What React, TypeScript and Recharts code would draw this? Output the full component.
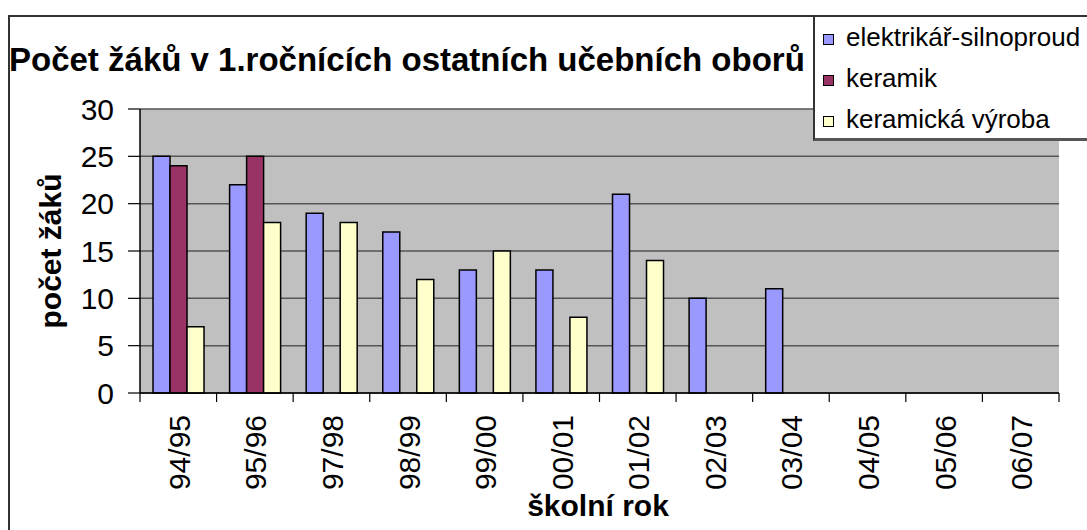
import React from "react";
import {
  BarChart,
  Bar,
  XAxis,
  YAxis,
  CartesianGrid,
  Legend,
  Label,
} from "recharts";

const categories = ["94/95", "95/96", "97/98", "98/99", "99/00", "00/01", "01/02", "02/03", "03/04", "04/05", "05/06", "06/07"];
const elektrikar = [25, 22, 19, 17, 13, 13, 21, 10, 11, null, null, null];
const keramik = [24, 25, null, null, null, null, null, null, null, null, null, null];
const keramickaVyroba = [7, 18, 18, 12, 15, 8, 14, null, null, null, null, null];
const yTicks = [0, 5, 10, 15, 20, 25, 30];

const seriesNames = ["elektrikář-silnoproud", "keramik", "keramická výroba"];
const seriesColors = ["#9999FF", "#993366", "#FFFFCC"];

const data = categories.map((name, i) => ({
  name,
  elektrikar: elektrikar[i],
  keramik: keramik[i],
  vyroba: keramickaVyroba[i],
}));

const FONT = "'Liberation Sans', Arial, sans-serif";

function XTick(props: any) {
  const { x, y, payload, index } = props;
  const half = payload?.offset ?? (1059 - 140) / categories.length / 2;
  return (
    <g>
      <line x1={x - half} x2={x - half} y1={y} y2={y + 9} stroke="#000" strokeWidth={1.2} />
      {index === categories.length - 1 && (
        <line x1={x + half} x2={x + half} y1={y} y2={y + 9} stroke="#000" strokeWidth={1.2} />
      )}
      <text
        x={0}
        y={0}
        transform={`translate(${x + 1}, ${y + 22}) rotate(-90)`}
        textAnchor="end"
        dominantBaseline="central"
        fontSize={30}
        fill="#000"
        fontFamily={FONT}
      >
        {payload.value}
      </text>
    </g>
  );
}

function LegendBox() {
  return (
    <div
      style={{
        background: "#fff",
        border: "2px solid #333",
        borderRight: "none",
        borderBottom: "3px solid #555",
        padding: "0 0 0 8px",
        height: 126,
        boxSizing: "border-box",
        fontFamily: FONT,
        fontSize: 26,
        color: "#000",
      }}
    >
      {seriesNames.map((n, i) => (
        <div key={n} style={{ display: "flex", alignItems: "center", height: 41, whiteSpace: "nowrap" }}>
          <span
            style={{
              display: "inline-block",
              width: 9,
              height: 9,
              background: seriesColors[i],
              border: "1.5px solid #000",
              marginRight: 12,
              marginTop: 4,
            }}
          />
          {n}
        </div>
      ))}
    </div>
  );
}

export default function App() {
  return (
    <div style={{ position: "absolute", left: 0, top: 0, width: 1087, height: 530, overflow: "hidden", background: "#fff", fontFamily: FONT }}>
      <div
        style={{
          position: "absolute",
          left: 8,
          top: 15,
          width: 1200,
          height: 600,
          borderLeft: "2px solid #333",
          borderTop: "2px solid #333",
        }}
      />
      <div
        style={{
          position: "absolute",
          left: 9,
          top: 41,
          fontSize: 33,
          fontWeight: "bold",
          whiteSpace: "nowrap",
          color: "#000",
        }}
      >
        Počet žáků v 1.ročnících ostatních učebních oborů
      </div>
      <div style={{ position: "absolute", left: 0, top: 0 }}>
        <BarChart
          width={1087}
          height={530}
          data={data}
          margin={{ top: 109, right: 28, left: 80, bottom: 0 }}
          barCategoryGap="17%"
          barGap={0}
        >
          <CartesianGrid vertical={false} stroke="#555" strokeWidth={1.5} fill="#C0C0C0" fillOpacity={1} />
          <XAxis
            dataKey="name"
            height={137}
            interval={0}
            tickLine={false}
            tickSize={0}
            tickMargin={0}
            axisLine={{ stroke: "#000", strokeWidth: 1.5 }}
            tick={<XTick />}
          >
            <Label
              content={() => (
                <text x={598} y={516} textAnchor="middle" fontSize={30} fontWeight="bold" fill="#000" fontFamily={FONT}>
                  školní rok
                </text>
              )}
            />
          </XAxis>
          <YAxis
            width={60}
            domain={[0, 30]}
            ticks={yTicks}
            interval={0}
            tickSize={12}
            tickMargin={14}
            tickLine={{ stroke: "#000", strokeWidth: 1.2 }}
            axisLine={{ stroke: "#000", strokeWidth: 1.5 }}
            tick={{ fill: "#000", fontSize: 30, fontFamily: FONT }}
          >
            <Label
              content={() => (
                <text
                  x={0}
                  y={0}
                  transform="translate(50, 251) rotate(-90)"
                  textAnchor="middle"
                  dominantBaseline="central"
                  fontSize={30}
                  fontWeight="bold"
                  fill="#000"
                  fontFamily={FONT}
                >
                  počet žáků
                </text>
              )}
            />
          </YAxis>
          <YAxis
            yAxisId="right"
            orientation="right"
            width={0}
            domain={[0, 30]}
            tick={false}
            tickLine={false}
            axisLine={{ stroke: "#808080", strokeWidth: 1.5 }}
          />
          <Legend
            layout="vertical"
            align="center"
            verticalAlign="middle"
            content={() => <LegendBox />}
            wrapperStyle={{ left: 813, top: 15, width: 290, height: 126 }}
          />
          <Bar dataKey="elektrikar" name={seriesNames[0]} fill={seriesColors[0]} stroke="#000" strokeWidth={1.5} isAnimationActive={false} />
          <Bar dataKey="keramik" name={seriesNames[1]} fill={seriesColors[1]} stroke="#000" strokeWidth={1.5} isAnimationActive={false} />
          <Bar dataKey="vyroba" name={seriesNames[2]} fill={seriesColors[2]} stroke="#000" strokeWidth={1.5} isAnimationActive={false} />
        </BarChart>
      </div>
    </div>
  );
}
